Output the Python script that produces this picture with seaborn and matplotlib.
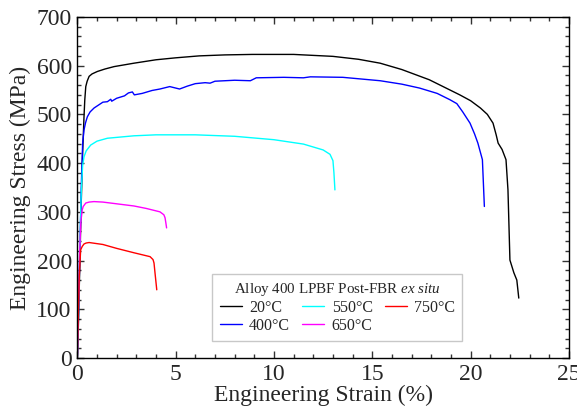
import matplotlib
matplotlib.use("Agg")
import matplotlib.pyplot as plt
import numpy as np
import pandas as pd
import seaborn as sns
from matplotlib.ticker import MultipleLocator

# Engineering stress-strain curves, Alloy 400 LPBF after FBR exposure
temps = ["20°C", "400°C", "550°C", "650°C", "750°C"]
colors = ["#000000", "#0000ff", "#00ffff", "#ff00ff", "#ff0000"]

strain_20 = [0, 0.05, 0.12, 0.2, 0.27, 0.34, 0.38, 0.43, 0.5, 0.6, 0.75, 1.02, 1.4, 1.87,
             2.88, 4.0, 5.0, 6.2, 7.5, 8.9, 11.0, 13.0, 14.3, 15.4, 16.5, 17.9, 19.45,
             20.0, 20.5, 20.85, 21.14, 21.3, 21.4, 21.6, 21.8, 21.9, 22.0, 22.2, 22.35,
             22.45]
stress_20 = [0, 60, 180, 320, 420, 495, 530, 557, 568, 578, 583, 588, 593, 598,
             605, 612, 616, 620, 622, 623, 623, 619, 613, 605, 592, 571, 540,
             528, 513, 500, 482, 458, 441, 428, 407, 345, 201, 175, 160,
             123]

strain_400 = [0, 0.05, 0.12, 0.2, 0.27, 0.34, 0.42, 0.51, 0.65, 0.85, 1.3, 1.53, 1.7,
              1.75, 2.0, 2.4, 2.6, 2.8, 2.9, 3.3, 3.8, 4.2, 4.7, 5.2, 5.6, 6.0, 6.5,
              6.75, 7.0, 8.0, 8.8, 9.1, 10.5, 11.5, 11.85, 13.5, 15.4, 16.5, 17.4,
              18.3, 18.95, 19.3, 19.6, 19.97, 20.2, 20.37, 20.6, 20.7]
stress_400 = [0, 70, 200, 350, 440, 468, 483, 495, 505, 513, 525, 526, 531,
              527, 533, 538, 544, 546, 540, 543, 549, 552, 557, 552, 558, 563, 565,
              564, 568, 570, 569, 575, 576, 575, 577, 576, 569, 562, 554,
              543, 530, 522, 505, 482, 460, 441, 407, 311]

strain_550 = [0, 0.05, 0.12, 0.2, 0.27, 0.34, 0.45, 0.68, 1.0, 1.53, 2.88, 4.0, 6.0,
              8.0, 10.0, 11.5, 12.5, 12.85, 13.0, 13.05, 13.1]
stress_550 = [0, 80, 220, 340, 395, 413, 425, 437, 445, 451, 456, 458, 458,
              455, 448, 439, 427, 418, 405, 380, 345]

strain_650 = [0, 0.05, 0.12, 0.18, 0.25, 0.3, 0.43, 0.6, 0.85, 1.3, 2.88, 3.5, 4.2,
              4.4, 4.46, 4.5, 4.54]
stress_650 = [0, 90, 220, 280, 304, 311, 318, 320, 321, 320, 312, 307, 300,
              294, 288, 278, 267]

strain_750 = [0, 0.05, 0.1, 0.17, 0.25, 0.34, 0.45, 0.6, 1.3, 2.0, 2.88, 3.7, 3.85,
              3.9, 3.95, 4.04]
stress_750 = [0, 90, 170, 222, 229, 234, 236, 237, 233, 225, 216, 208, 202,
              195, 175, 140]

curves = [(strain_20, stress_20), (strain_400, stress_400), (strain_550, stress_550),
          (strain_650, stress_650), (strain_750, stress_750)]

frames = []
for t, (e, s) in zip(temps, curves):
    frames.append(pd.DataFrame({"strain": e, "stress": s, "temp": t}))
df = pd.concat(frames, ignore_index=True)

sns.set_style("white")
plt.rcParams["font.family"] = ["Liberation Serif", "DejaVu Serif"]
plt.rcParams["mathtext.fontset"] = "custom"
plt.rcParams["mathtext.rm"] = "Liberation Serif"
plt.rcParams["mathtext.it"] = "Liberation Serif:italic"

fig = plt.figure(figsize=(5.77, 4.12), dpi=100)
ax = fig.add_axes([0.134, 0.131, 0.852, 0.828])

sns.lineplot(data=df, x="strain", y="stress", hue="temp", hue_order=temps,
             palette=colors, sort=False, estimator=None, linewidth=1.0, ax=ax)

ax.set_xlim(0, 25)
ax.set_ylim(0, 700)
ax.xaxis.set_major_locator(MultipleLocator(5))
ax.xaxis.set_minor_locator(MultipleLocator(1))
ax.yaxis.set_major_locator(MultipleLocator(100))
ax.yaxis.set_minor_locator(MultipleLocator(20))
ax.tick_params(which="both", direction="in", bottom=True, left=True, top=True,
               right=True, width=1.0, color="#333333")
ax.tick_params(which="major", length=5, labelsize=17, pad=4)
ax.tick_params(which="minor", length=3)
for sp in ax.spines.values():
    sp.set_linewidth(1.0)
    sp.set_color("black")

ax.set_xlabel("Engineering Strain (%)", fontsize=17, labelpad=0)
ax.set_ylabel("Engineering Stress (MPa)", fontsize=17, labelpad=4)

leg = ax.legend(title="Alloy 400 LPBF Post-FBR $\\mathit{ex\\ situ}$", ncol=3,
                loc="lower center", bbox_to_anchor=(0.529, 0.05), fontsize=11.5,
                title_fontsize=10.8, frameon=True, fancybox=False, handlelength=1.4,
                handletextpad=0.45, columnspacing=0.75, borderaxespad=0,
                labelspacing=0.12, borderpad=0.45)
leg.get_frame().set_edgecolor("#bbbbbb")
leg.get_frame().set_linewidth(1.0)

fig.savefig("out.png", dpi=100)
